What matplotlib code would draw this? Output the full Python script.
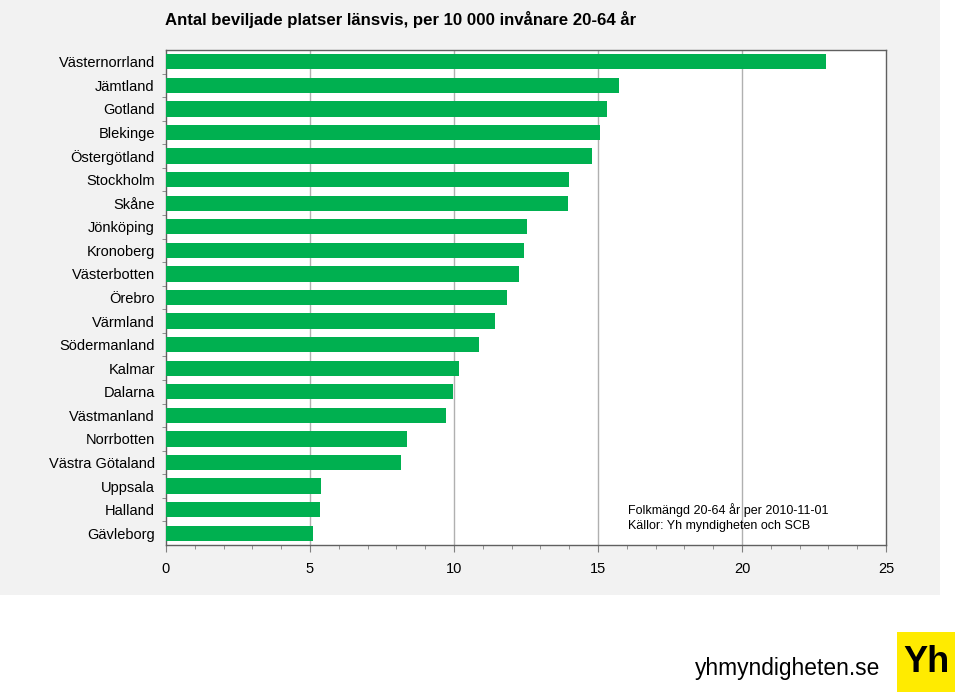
import matplotlib
matplotlib.use("Agg")
import matplotlib.pyplot as plt
from matplotlib.patches import Rectangle
from matplotlib.ticker import MultipleLocator

plt.rcParams['font.family'] = ['Liberation Sans', 'DejaVu Sans']

counties = ["Västernorrland", "Jämtland", "Gotland", "Blekinge", "Östergötland",
            "Stockholm", "Skåne", "Jönköping", "Kronoberg", "Västerbotten",
            "Örebro", "Värmland", "Södermanland", "Kalmar", "Dalarna",
            "Västmanland", "Norrbotten", "Västra Götaland", "Uppsala",
            "Halland", "Gävleborg"]
values = [22.92, 15.74, 15.30, 15.07, 14.80, 14.00, 13.95, 12.55, 12.42, 12.25,
          11.85, 11.42, 10.87, 10.17, 9.98, 9.72, 8.36, 8.15, 5.37, 5.35, 5.12]
xticks = [0, 5, 10, 15, 20, 25]

title = "Antal beviljade platser länsvis, per 10 000 invånare 20-64 år"
note = "Folkmängd 20-64 år per 2010-11-01\nKällor: Yh myndigheten och SCB"

W, H = 960, 697
fig = plt.figure(figsize=(W / 100, H / 100), dpi=100, facecolor="white")
bg = Rectangle((0, 1 - 595 / H), 940 / W, 595 / H, transform=fig.transFigure,
               facecolor="#f2f2f2", edgecolor="none", zorder=-10)
fig.add_artist(bg)

left, right, top, bottom = 166, 886, 50, 545
ax = fig.add_axes([left / W, 1 - bottom / H, (right - left) / W, (bottom - top) / H])
ax.set_facecolor("white")

n = len(counties)
pos = list(range(n))
ax.barh(pos, values, height=0.65, color="#00b050", zorder=3)
ax.set_ylim(n - 0.5, -0.5)
ax.set_xlim(0, 25)
ax.set_yticks(pos)
ax.set_yticklabels(counties, fontsize=10.5)
ax.set_yticks([p + 0.5 for p in pos[:-1]], minor=True)
ax.tick_params(axis="y", which="major", length=0, pad=8)
ax.tick_params(axis="y", which="minor", length=3, color="#808080")
ax.set_xticks(xticks)
ax.set_xticklabels([str(t) for t in xticks], fontsize=10.5)
ax.xaxis.set_minor_locator(MultipleLocator(1))
ax.tick_params(axis="x", which="major", length=5, color="#808080", pad=7)
ax.tick_params(axis="x", which="minor", length=3, color="#808080")
for x in xticks[1:-1]:
    ax.axvline(x, color="#b0b0b0", lw=1, zorder=1)
for s in ax.spines.values():
    s.set_color("#606060")
    s.set_linewidth(1)

fig.text(165 / W, 1 - 20 / H, title, fontsize=12.1, fontweight="bold", va="center", ha="left")
ax.text(16.03, 19.33, note, fontsize=9.0, va="center", ha="left", linespacing=1.3)

fig.text(880 / W, 1 - 668 / H, "yhmyndigheten.se", fontsize=16.4, ha="right", va="center")
logo = Rectangle((897 / W, 1 - 692 / H), 58 / W, 60 / H, transform=fig.transFigure,
                 facecolor="#ffeb00", edgecolor="none")
fig.add_artist(logo)
fig.text(926 / W, 1 - 663 / H, "Yh", fontsize=26, fontweight="bold", ha="center", va="center")

fig.savefig("out.png", dpi=100, facecolor=fig.get_facecolor())
